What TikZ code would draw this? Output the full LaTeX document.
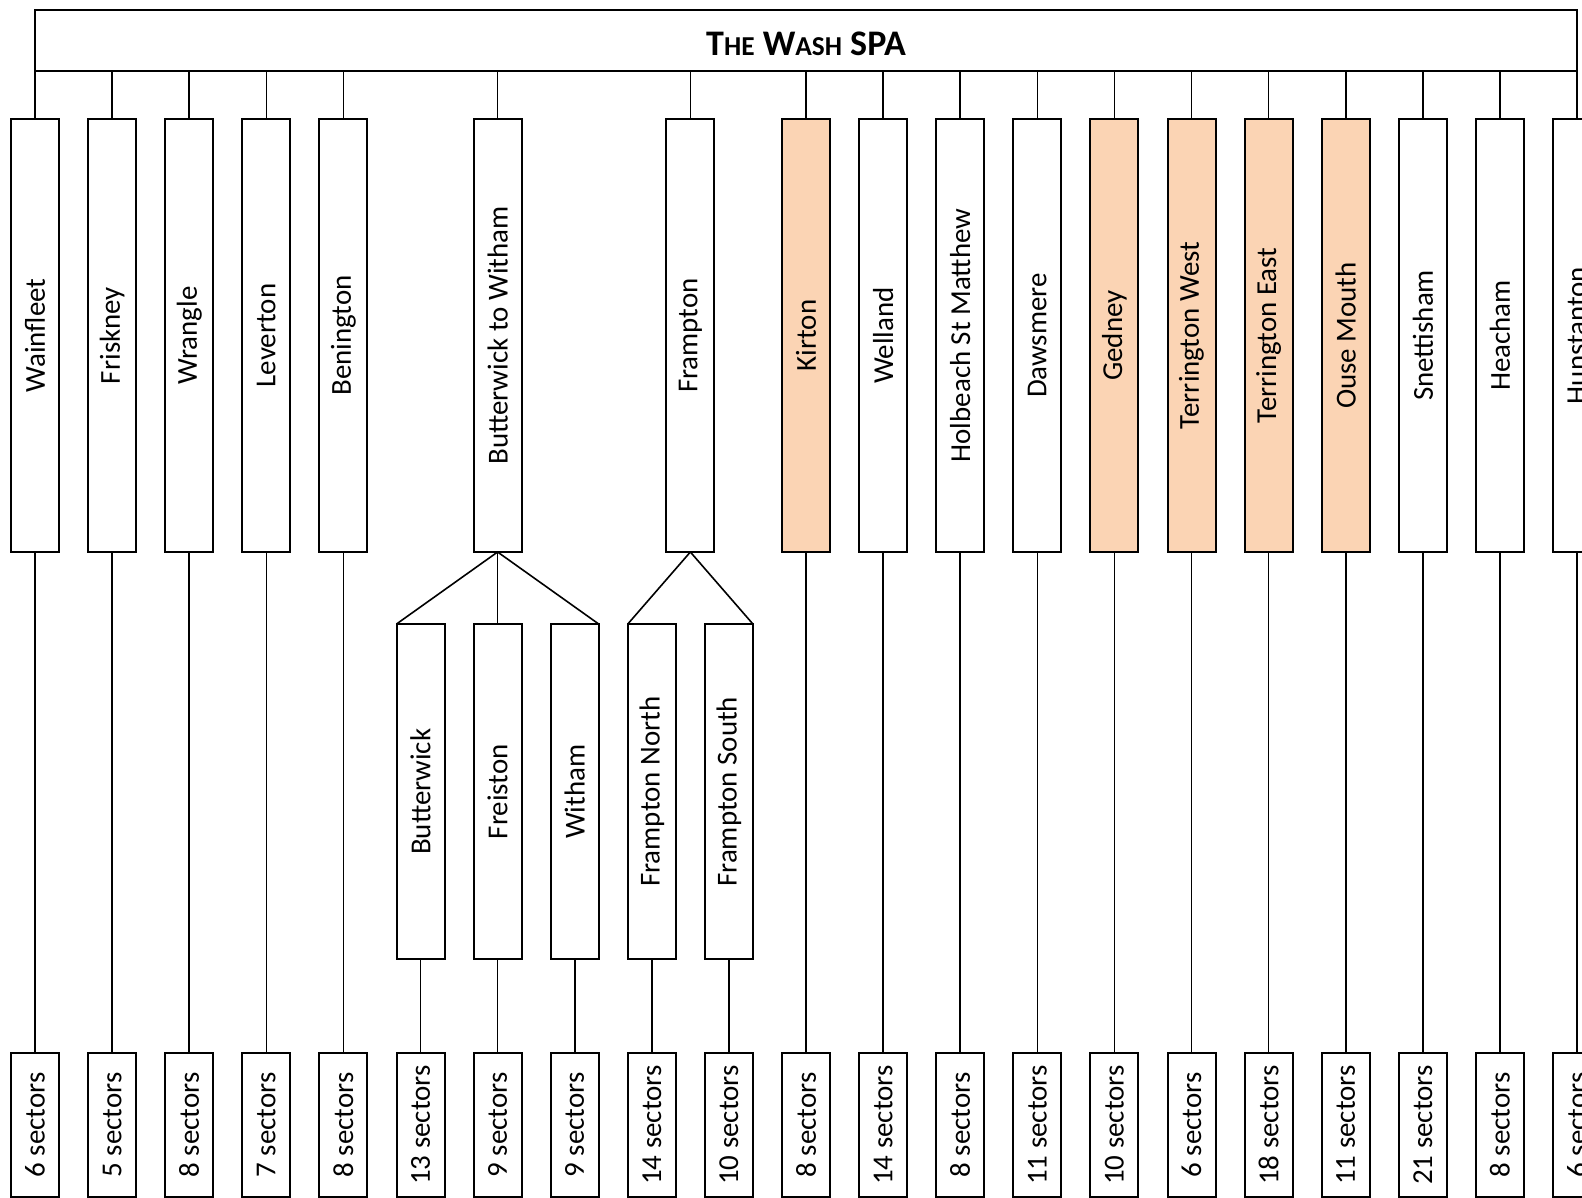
\documentclass[tikz,border=0pt]{standalone}
\usepackage{fontspec}
\setmainfont{Carlito}
\definecolor{peach}{HTML}{FBD4B4}
\begin{document}
\begin{tikzpicture}[x=0.75pt,y=-0.75pt,
  every node/.style={inner sep=0pt, outer sep=0pt},
  boxstyle/.style={draw=black, line width=1.5pt, fill=white, minimum width=36pt},
  colbox/.style={boxstyle, minimum height=324.75pt},
  subbox/.style={boxstyle, minimum height=251.6pt},
  secbox/.style={boxstyle, minimum height=108pt},
  hl/.style={fill=peach},
  link/.style={draw=black, line width=1.2pt},
  lbl/.style={font=\fontsize{21.7}{26}\selectfont}
]
\useasboundingbox (0,0) rectangle (1582,1198);
\pgfmathsetmacro{\dx}{77.1}
% top box
\node[draw=black, line width=1.5pt, minimum width=1156.5pt, minimum height=45.75pt] (top) at (806,40.5) {};
\node[anchor=base] (title) at (806,56) {\fontsize{27}{30}\selectfont\bfseries T{\fontsize{20.5}{24}\selectfont HE} W{\fontsize{20.5}{24}\selectfont ASH} SPA};
% columns
\foreach \k/\name/\txt/\col in {0/c0/Wainfleet/white,1/c1/Friskney/white,2/c2/Wrangle/white,3/c3/Leverton/white,4/c4/Benington/white,6/c6/Butterwick to Witham/white,8.5/c85/Frampton/white,10/c10/Kirton/peach,11/c11/Welland/white,12/c12/Holbeach St Matthew/white,13/c13/Dawsmere/white,14/c14/Gedney/peach,15/c15/Terrington West/peach,16/c16/Terrington East/peach,17/c17/Ouse Mouth/peach,18/c18/Snettisham/white,19/c19/Heacham/white,20/c20/Hunstanton/white}{
  \node[colbox, fill=\col, lbl] (\name) at ({35+\dx*\k},335.5) {\rotatebox{90}{\txt}};
  \draw[link] ({35+\dx*\k},71) -- (\name.north);
}
% sub boxes
\foreach \k/\name/\txt in {5/s5/Butterwick,6/s6/Freiston,7/s7/Witham,8/s8/Frampton North,9/s9/Frampton South}{
  \node[subbox, lbl] (\name) at ({35+\dx*\k},791.75) {\rotatebox{90}{\txt}};
}
\draw[link] (c6.south) -- (s5.north west);
\draw[link] (c6.south) -- (s6.north);
\draw[link] (c6.south) -- (s7.north east);
\draw[link] (c85.south) -- (s8.north west);
\draw[link] (c85.south) -- (s9.north east);
% sector boxes
\foreach \k/\n in {0/6,1/5,2/8,3/7,4/8,5/13,6/9,7/9,8/14,9/10,10/8,11/14,12/8,13/11,14/10,15/6,16/18,17/11,18/21,19/8,20/6}{
  \node[secbox, lbl] (n\k) at ({35+\dx*\k},1125) {\rotatebox{90}{\n\ sectors}};
}
\foreach \k in {0,1,2,3,4,10,11,12,13,14,15,16,17,18,19,20}{
  \draw[link] (c\k.south) -- (n\k.north);
}
\foreach \k in {5,6,7,8,9}{
  \draw[link] (s\k.south) -- (n\k.north);
}
\end{tikzpicture}
\end{document}
